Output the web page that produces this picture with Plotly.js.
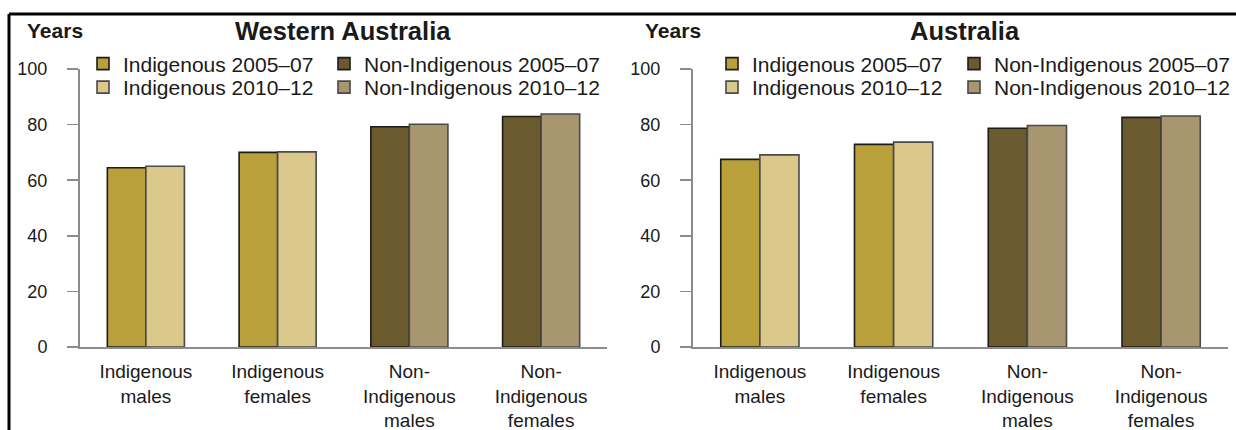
<!DOCTYPE html>
<html>
<head>
<meta charset="utf-8">
<script src="https://cdn.plot.ly/plotly-3.0.1.min.js"></script>
<style>
  html, body { margin: 0; padding: 0; background: #ffffff; }
  #chart { width: 1236px; height: 430px; }
</style>
</head>
<body>
<div id="chart"></div>
<script>
// ---- Data (life expectancy at birth, years) ----
const categories = ['Indigenous<br>males', 'Indigenous<br>females', 'Non-<br>Indigenous<br>males', 'Non-<br>Indigenous<br>females'];
const seriesNames = ['Indigenous 2005–07', 'Non-Indigenous 2005–07', 'Indigenous 2010–12', 'Non-Indigenous 2010–12'];
const waPeriod1 = [64.5, 70.0, 79.2, 82.9];   // 2005–07, Western Australia
const waPeriod2 = [65.0, 70.2, 80.1, 83.8];   // 2010–12, Western Australia
const ausPeriod1 = [67.5, 72.9, 78.7, 82.6];  // 2005–07, Australia
const ausPeriod2 = [69.1, 73.7, 79.7, 83.1];  // 2010–12, Australia
const yTicks = [0, 20, 40, 60, 80, 100];
const panelTitles = ['Western Australia', 'Australia'];
const yUnit = 'Years';

// ---- Styling ----
const W = 1236, H = 430;
const FONT = 'Liberation Sans, Arial, sans-serif';
const colors = {
  ind1: '#b9a03a', non1: '#6a5a2d',
  ind2: '#dbc98b', non2: '#a89671'
};
const outline1 = '#1c1c1c', outline2 = '#4a4a4a';
const axisGray = '#8c8c8c';
const px = (v) => v / W;
const py = (v) => 1 - v / H;

const indIdx = [0, 1], nonIdx = [2, 3];
const pick = (arr, idx) => idx.map(i => arr[i]);

function panelTraces(p1, p2, xa, ya, legs) {
  const mk = (name, idx, vals, color, line, group, leg) => ({
    type: 'bar', name: name, showlegend: true,
    x: pick(categories, idx), y: pick(vals, idx),
    xaxis: xa, yaxis: ya, offsetgroup: group, legend: leg,
    marker: { color: color, line: { color: line, width: 1.6 } },
    hoverinfo: 'skip'
  });
  return [
    mk(seriesNames[0], indIdx, p1, colors.ind1, outline1, 'a', legs[0]),
    mk(seriesNames[1], nonIdx, p1, colors.non1, outline1, 'a', legs[1]),
    mk(seriesNames[2], indIdx, p2, colors.ind2, outline2, 'b', legs[2]),
    mk(seriesNames[3], nonIdx, p2, colors.non2, outline2, 'b', legs[3])
  ];
}

const data = [
  ...panelTraces(waPeriod1, waPeriod2, 'x', 'y', ['legend', 'legend2', 'legend3', 'legend4']),
  ...panelTraces(ausPeriod1, ausPeriod2, 'x2', 'y2', ['legend5', 'legend6', 'legend7', 'legend8'])
];

function legendAt(xp, yp) {
  return {
    visible: true,
    x: px(xp), y: py(yp), xanchor: 'left', yanchor: 'middle',
    orientation: 'h', bgcolor: 'rgba(0,0,0,0)', borderwidth: 0,
    font: { family: FONT, size: 21, color: '#1a1a1a' }
  };
}

const yAxisBase = {
  range: [0, 100], tickvals: yTicks, ticktext: yTicks.map(String),
  showline: true, linecolor: axisGray, linewidth: 2,
  ticks: 'outside', ticklen: 11, tickwidth: 1.5, tickcolor: axisGray,
  ticklabelstandoff: 16,
  tickfont: { family: FONT, size: 18, color: '#1a1a1a' },
  showgrid: false, zeroline: false, fixedrange: true,
  domain: [py(347), py(69)]
};
const xAxisBase = {
  type: 'category', categoryorder: 'array', categoryarray: categories,
  showline: true, linecolor: axisGray, linewidth: 2,
  ticks: '', showgrid: false, zeroline: false, fixedrange: true,
  ticklabelstandoff: 6,
  tickfont: { family: FONT, size: 19, color: '#1a1a1a' }
};

const layout = {
  width: W, height: H,
  margin: { l: 0, r: 0, t: 0, b: 0 },
  showlegend: true,
  paper_bgcolor: '#ffffff', plot_bgcolor: 'rgba(0,0,0,0)',
  barmode: 'group', bargap: 0.415, bargroupgap: 0,
  xaxis: Object.assign({}, xAxisBase, { domain: [px(80), px(607)], anchor: 'y' }),
  yaxis: Object.assign({}, yAxisBase, { anchor: 'x' }),
  xaxis2: Object.assign({}, xAxisBase, { domain: [px(693), px(1228)], anchor: 'y2' }),
  yaxis2: Object.assign({}, yAxisBase, { anchor: 'x2' }),
  legend: legendAt(83, 64),
  legend2: legendAt(324, 64),
  legend3: legendAt(83, 87.5),
  legend4: legendAt(324, 87.5),
  legend5: legendAt(712, 64),
  legend6: legendAt(954, 64),
  legend7: legendAt(712, 87.5),
  legend8: legendAt(954, 87.5),
  annotations: [
    { text: '<b>' + yUnit + '</b>', xref: 'paper', yref: 'paper', x: px(25), y: py(31),
      xanchor: 'left', yanchor: 'middle', showarrow: false,
      font: { family: FONT, size: 21, color: '#1a1a1a' } },
    { text: '<b>' + yUnit + '</b>', xref: 'paper', yref: 'paper', x: px(643), y: py(31),
      xanchor: 'left', yanchor: 'middle', showarrow: false,
      font: { family: FONT, size: 21, color: '#1a1a1a' } },
    { text: '<b>' + panelTitles[0] + '</b>', xref: 'paper', yref: 'paper', x: px(343), y: py(31),
      xanchor: 'center', yanchor: 'middle', showarrow: false,
      font: { family: FONT, size: 25.5, color: '#1a1a1a' } },
    { text: '<b>' + panelTitles[1] + '</b>', xref: 'paper', yref: 'paper', x: px(965), y: py(31),
      xanchor: 'center', yanchor: 'middle', showarrow: false,
      font: { family: FONT, size: 25.5, color: '#1a1a1a' } }
  ],
  shapes: [
    { type: 'line', xref: 'paper', yref: 'paper', x0: px(9), x1: px(1240), y0: py(14), y1: py(14),
      line: { color: '#000000', width: 3 } },
    { type: 'line', xref: 'paper', yref: 'paper', x0: px(9), x1: px(9), y0: py(14), y1: py(434),
      line: { color: '#000000', width: 3 } }
  ]
};

Plotly.newPlot('chart', data, layout, { displayModeBar: false, staticPlot: true });
</script>
</body>
</html>
